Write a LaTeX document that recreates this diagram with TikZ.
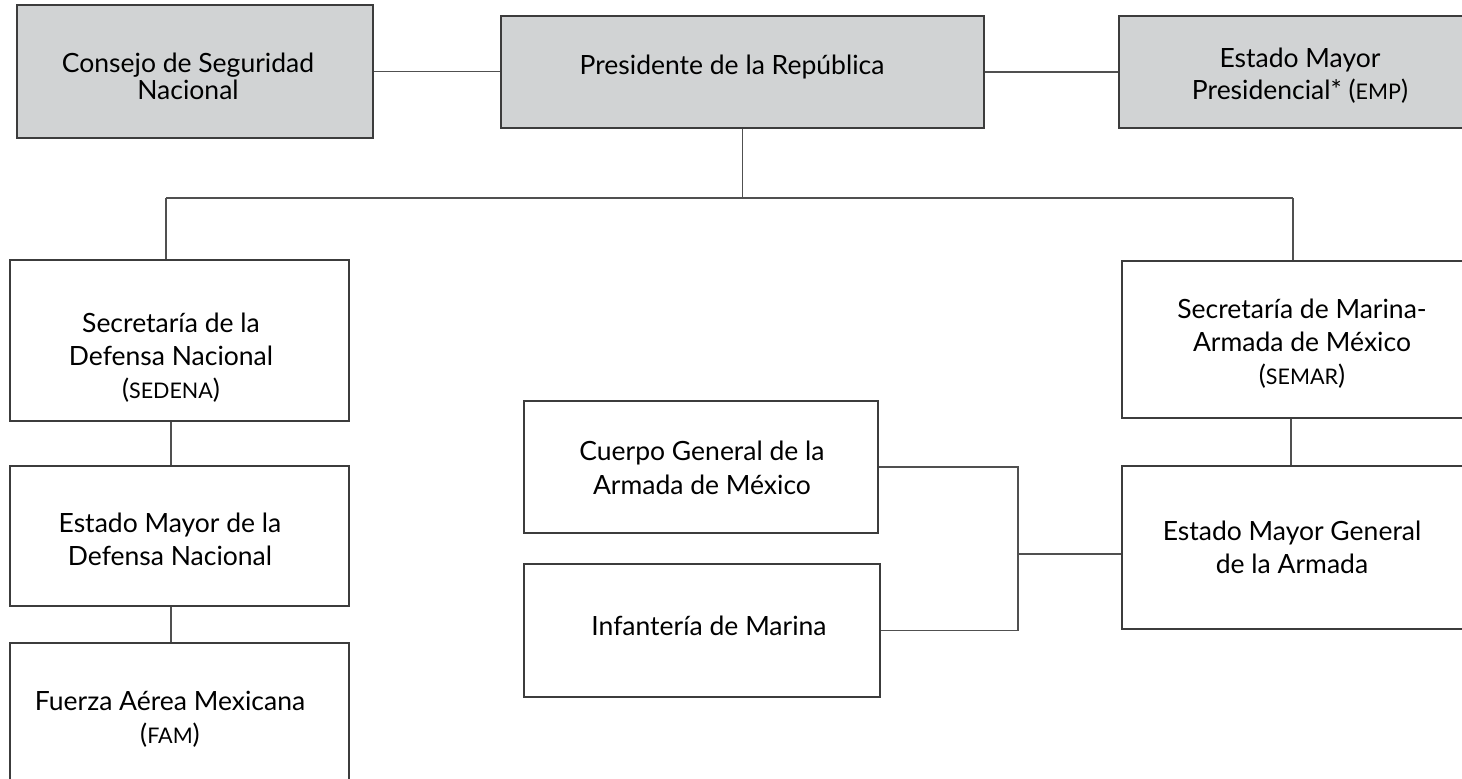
\documentclass[tikz,border=0pt]{standalone}
\usepackage{fontspec}
\setmainfont{Lato}
\definecolor{boxfill}{HTML}{D1D3D4}
\definecolor{boxline}{HTML}{3C3C3C}
\definecolor{connline}{HTML}{505050}
\newcommand\smcp[1]{{\fontsize{21.5}{33}\selectfont #1}}
\newcommand\txtlines[1]{\begin{tabular}[t]{@{}c@{}}#1\end{tabular}}
\begin{document}
\begin{tikzpicture}[x=1pt,y=-1pt,
  orgbox/.style={draw=boxline, line width=1.4pt, rectangle, inner sep=0pt, fill=white},
  greybox/.style={orgbox, fill=boxfill},
  lbl/.style={anchor=base, inner sep=0pt, font=\fontsize{26.5}{33}\selectfont},
  conn/.style={draw=connline, line width=1.4pt}]
\clip (0,0) rectangle (1462,779);
\fill[white] (0,0) rectangle (1462,779);

% boxes
\node[greybox, minimum width=356pt, minimum height=133pt] (consejo) at (195,71.5) {};
\node[greybox, minimum width=483pt, minimum height=112pt] (pres) at (742.5,72) {};
\node[greybox, minimum width=362pt, minimum height=112pt] (emp) at (1300,72) {};
\node[orgbox, minimum width=339pt, minimum height=161pt] (sedena) at (179.5,340.5) {};
\node[orgbox, minimum width=339pt, minimum height=140pt] (emdn) at (179.5,536) {};
\node[orgbox, minimum width=339pt, minimum height=177pt] (fam) at (179.5,731.5) {};
\node[orgbox, minimum width=360pt, minimum height=157pt] (semar) at (1302,339.5) {};
\node[orgbox, minimum width=360pt, minimum height=163pt] (emga) at (1302,547.5) {};
\node[orgbox, minimum width=354pt, minimum height=132pt] (cuerpo) at (701,467) {};
\node[orgbox, minimum width=356pt, minimum height=133pt] (infant) at (702,630.5) {};

% texts
\node[lbl, font=\fontsize{26.5}{25}\selectfont] (consejo-t) at (188,72) {\txtlines{Consejo de Seguridad\\Nacional}};
\node[lbl] (pres-t) at (732,74) {Presidente de la República};
\node[lbl, font=\fontsize{26.5}{32}\selectfont] (emp-t) at (1300,67) {\txtlines{Estado Mayor\\Presidencial* (\smcp{EMP})}};
\node[lbl] (sedena-t) at (171,332) {\txtlines{Secretaría de la\\Defensa Nacional\\(\smcp{SEDENA})}};
\node[lbl] (emdn-t) at (170,532) {\txtlines{Estado Mayor de la\\Defensa Nacional}};
\node[lbl] (fam-t) at (170,710) {\txtlines{Fuerza Aérea Mexicana\\(\smcp{FAM})}};
\node[lbl] (semar-t) at (1302,318) {\txtlines{Secretaría de Marina-\\Armada de México\\(\smcp{SEMAR})}};
\node[lbl] (emga-t) at (1292,540) {\txtlines{Estado Mayor General\\de la Armada}};
\node[lbl, font=\fontsize{26.5}{34}\selectfont] (cuerpo-t) at (702,460) {\txtlines{Cuerpo General de la\\Armada de México}};
\node[lbl] (infant-t) at (709,635) {Infantería de Marina};

% connector helper points
\coordinate (busL) at (166,198);
\coordinate (busR) at (1293,198);
\coordinate (colL) at (171,0);
\coordinate (colR) at (1291,0);
\coordinate (jn) at (1018,554);

% connectors
\draw[conn] (consejo.east) -- (consejo.east -| pres.west);
\draw[conn] (pres.east) -- (emp.west);
\draw[conn] (pres.south) -- (pres.south |- busL);
\draw[conn] (busL) -- (busR);
\draw[conn] (busL) -- (busL |- sedena.north);
\draw[conn] (busR) -- (busR |- semar.north);
\draw[conn] (colL |- sedena.south) -- (colL |- emdn.north);
\draw[conn] (colL |- emdn.south) -- (colL |- fam.north);
\draw[conn] (colR |- semar.south) -- (colR |- emga.north);
\draw[conn] (cuerpo.east) -| (jn) |- (infant.east);
\draw[conn] (jn) -- (jn -| emga.west);
\end{tikzpicture}
\end{document}
